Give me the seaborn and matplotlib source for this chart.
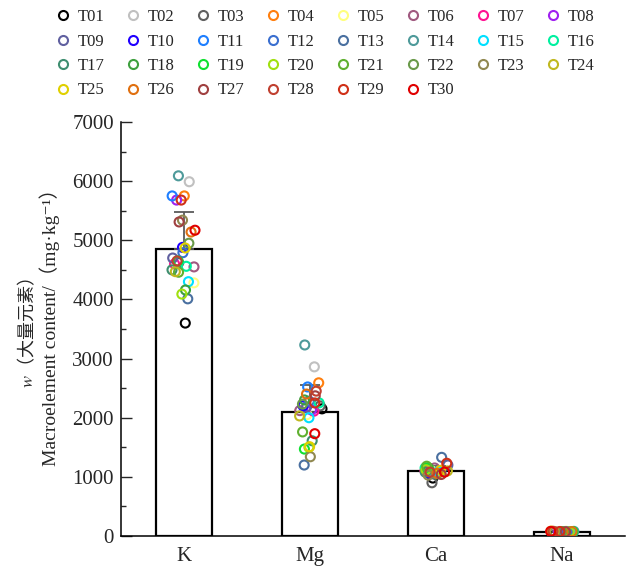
import numpy as np
import pandas as pd
import matplotlib
matplotlib.use("Agg")
import matplotlib.pyplot as plt
from matplotlib.lines import Line2D
import seaborn as sns

elements = ["K", "Mg", "Ca", "Na"]
treatments = ["T%02d" % i for i in range(1, 31)]
colors = ["#000000", "#c0c0c0", "#606060", "#ff7f0e", "#ffff80", "#a05a80",
          "#ff1493", "#a020f0", "#6060a0", "#2000ff", "#1e7fff", "#3a6fd0",
          "#4a70a0", "#4e9a9a", "#00e0ff", "#00f0a0", "#3e8e70", "#3ea03e",
          "#10e030", "#a0e010", "#60b030", "#6a9a4a", "#908850", "#c0b820",
          "#e0d000", "#e07010", "#a04040", "#c04030", "#d03018", "#e00000"]

K_values = [3600, 5990, 4620, 5750, 4280, 4550, 4600, 5680, 4700, 4880,
            5750, 4790, 4010, 6090, 4300, 4560, 4500, 4160, 4650, 4090,
            4460, 4950, 5340, 4470, 4870, 5140, 5310, 4650, 5680, 5170]
Mg_values = [2150, 2860, 2200, 2590, 2050, 2120, 2110, 2130, 2180, 2200,
             2520, 2280, 1200, 3230, 2000, 2250, 1610, 2300, 1470, 1500,
             1760, 2230, 1340, 2030, 1510, 2400, 2370, 2450, 2250, 1730]
Ca_values = [980, 1100, 900, 1080, 1100, 1150, 1100, 1080, 1200, 1060,
             1100, 1090, 1330, 1060, 1090, 1150, 1080, 1150, 1150, 1120,
             1180, 1050, 1030, 1100, 1110, 1060, 1040, 1080, 1230, 1080]
Na_values = [65, 70, 60, 75, 80, 68, 72, 66, 70, 62,
             74, 69, 71, 78, 64, 73, 67, 70, 75, 68,
             72, 66, 70, 77, 82, 74, 71, 79, 76, 78]

ylabel_line1 = "$w$（大量元素）"
ylabel_line2 = "Macroelement content/（mg·kg⁻¹）"

sns.set_style("ticks")
plt.rcParams["font.family"] = ["Liberation Serif", "Noto Sans CJK SC", "DejaVu Serif"]
plt.rcParams["mathtext.fontset"] = "stix"

df = pd.DataFrame({
    "element": np.repeat(elements, len(treatments)),
    "treatment": treatments * len(elements),
    "value": K_values + Mg_values + Ca_values + Na_values,
})
stats = df.groupby("element", sort=False)["value"].agg(["mean", "std"]).reindex(elements)

fig = plt.figure(figsize=(6.32, 5.68), dpi=100)
ax = fig.add_axes([121 / 632, 1 - 536 / 568, (625 - 121) / 632, (536 - 122) / 568])

sns.barplot(data=stats.reset_index(), x="element", y="mean", order=elements,
            color="white", edgecolor="black", linewidth=1.6, width=0.44,
            errorbar=None, ax=ax, zorder=1)
ax.errorbar(np.arange(len(elements)), stats["mean"].values,
            yerr=[np.zeros(len(elements)), stats["std"].values],
            fmt="none", ecolor="#5a5a5a", elinewidth=1.3, capsize=7.5,
            capthick=1.3, zorder=2)

np.random.seed(3)
palette = dict(zip(treatments, colors))
sns.stripplot(data=df, x="element", y="value", hue="treatment", order=elements,
              hue_order=treatments, palette=palette, jitter=0.1, size=6.5,
              legend=False, ax=ax, zorder=3)
for coll in ax.collections:
    fc = coll.get_facecolors()
    if len(fc):
        coll.set_edgecolors(fc)
        coll.set_facecolors("none")
        coll.set_linewidths(1.5)

ax.set_xlim(-0.5, 3.5)
ax.set_ylim(0, 7000)
ax.set_yticks(np.arange(0, 7001, 1000))
ax.set_yticks(np.arange(500, 7000, 1000), minor=True)
ax.tick_params(axis="y", which="major", direction="in", length=8, width=1.0,
               labelsize=15, pad=5)
ax.tick_params(axis="y", which="minor", direction="in", length=3.6, width=1.0)
ax.tick_params(axis="x", length=0, labelsize=15, pad=8)
ax.set_xlabel("")
ax.set_ylabel("")
for s in ["top", "right"]:
    ax.spines[s].set_visible(False)
for s in ["left", "bottom"]:
    ax.spines[s].set_linewidth(1.1)
    ax.spines[s].set_color("black")

fig.text(27 / 632, 1 - 333 / 568, ylabel_line1, rotation=90, ha="center",
         va="center", fontsize=13, family=["Noto Sans CJK SC"])
fig.text(50 / 632, 1 - 323 / 568, ylabel_line2, rotation=90, ha="center",
         va="center", fontsize=14)

# legend, ordered row-wise across 8 columns
ncol = 8
handles = [Line2D([], [], marker="o", linestyle="none", markersize=6.5,
                  markerfacecolor="none", markeredgecolor=c, markeredgewidth=1.5)
           for c in colors]
order = []
for j in range(ncol):
    order.extend(range(j, len(treatments), ncol))
fig.legend([handles[i] for i in order], [treatments[i] for i in order],
           ncol=ncol, loc="upper left", bbox_to_anchor=(56 / 632, 1 - 9 / 568),
           frameon=False, fontsize=12, handlelength=0.8, handletextpad=0.5,
           columnspacing=1.29, labelspacing=0.51, borderpad=0, borderaxespad=0)

fig.savefig("out.png", dpi=100)
